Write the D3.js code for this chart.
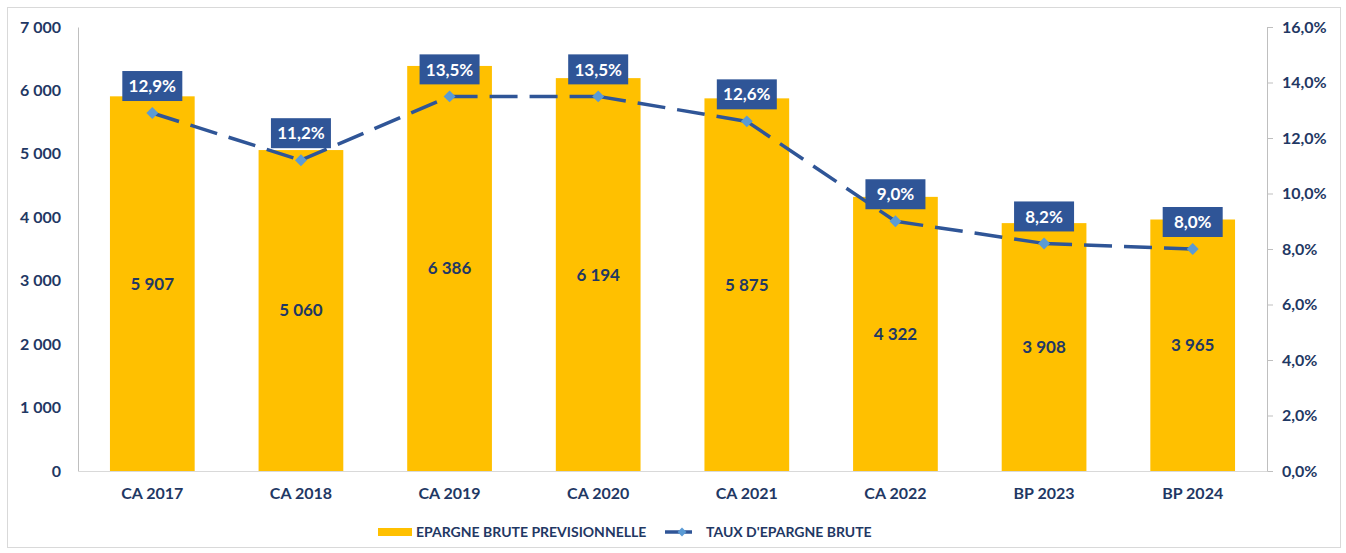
<!DOCTYPE html>
<meta charset="utf-8">
<style>
body { margin: 0; background: #fff; }
svg text { font-family: Lato, "Open Sans", sans-serif; }
.lbl { font-weight: bold; fill: #1f3864; }
</style>
<body>
<svg id="chart" width="1346" height="553"></svg>
<script src="https://cdn.jsdelivr.net/npm/d3@7"></script>
<script>

var categories = ["CA 2017", "CA 2018", "CA 2019", "CA 2020", "CA 2021", "CA 2022", "BP 2023", "BP 2024"];
var epargne = [5907, 5060, 6386, 6194, 5875, 4322, 3908, 3965];
var taux = [12.9, 11.2, 13.5, 13.5, 12.6, 9.0, 8.2, 8.0];
var leftTicks = [0, 1000, 2000, 3000, 4000, 5000, 6000, 7000];
var rightTicks = [0, 2, 4, 6, 8, 10, 12, 14, 16];

var navy = "#1f3864",
  barColor = "#ffc000",
  lineColor = "#2f5597",
  markerColor = "#5b9bd5";

var svg = d3.select("#chart");

// outer frame
svg.append("rect")
  .attr("x", 7.5).attr("y", 7.5)
  .attr("width", 1333).attr("height", 540)
  .attr("fill", "none").attr("stroke", "#d9d9d9");

var plotL = 78, plotR = 1267, plotT = 27, plotB = 471;

var x = d3.scaleBand()
  .domain(categories)
  .range([plotL, plotR])
  .paddingInner(0.43)
  .paddingOuter(0.215);

var y = d3.scaleLinear().domain([0, 7000]).range([plotB, plotT]);
var y2 = d3.scaleLinear().domain([0, 16]).range([plotB, plotT]);

var fmtThousands = function(v) { return d3.format(",")(v).replace(/,/g, " "); };
var fmtPct = function(v) { return v.toFixed(1).replace(".", ",") + "%"; };

// bars
svg.selectAll(".bar")
  .data(epargne)
  .enter().append("rect")
  .attr("class", "bar")
  .attr("x", function(d, i) { return x(categories[i]); })
  .attr("y", function(d) { return y(d); })
  .attr("width", x.bandwidth())
  .attr("height", function(d) { return plotB - y(d); })
  .attr("fill", barColor);

// bar values
svg.selectAll(".barval")
  .data(epargne)
  .enter().append("text")
  .attr("class", "lbl")
  .attr("x", function(d, i) { return x(categories[i]) + x.bandwidth() / 2; })
  .attr("y", function(d) { return (y(d) + plotB) / 2; })
  .attr("dy", "0.35em")
  .attr("text-anchor", "middle")
  .style("font-size", "17px")
  .text(fmtThousands);

// left axis
var ax = svg.append("g")
  .attr("transform", "translate(" + plotL + ",0)")
  .call(d3.axisLeft(y).tickValues(leftTicks).tickSize(0).tickPadding(17).tickFormat(fmtThousands))
  .attr("font-family", null);
ax.select(".domain").attr("stroke", "#bfbfbf");
ax.selectAll("text").attr("class", "lbl").style("font-size", "16px").attr("fill", navy);

// right axis
var ax2 = svg.append("g")
  .attr("transform", "translate(" + plotR + ",0)")
  .call(d3.axisRight(y2).tickValues(rightTicks).tickSizeInner(6).tickSizeOuter(6).tickPadding(9).tickFormat(fmtPct))
  .attr("font-family", null);
ax2.selectAll(".domain, line").attr("stroke", "#bfbfbf");
ax2.selectAll("text").attr("class", "lbl").style("font-size", "16px").attr("fill", navy);

// bottom axis
var bx = svg.append("g")
  .attr("transform", "translate(0," + plotB + ")")
  .call(d3.axisBottom(x).tickSize(0).tickPadding(17))
  .attr("font-family", null);
bx.select(".domain").attr("stroke", "#d9d9d9");
bx.selectAll("text").attr("class", "lbl").style("font-size", "16px").attr("fill", navy);

// rate line: one path per segment so the dashes restart at each point
var cx = function(i) { return x(categories[i]) + x.bandwidth() / 2; };
var line = d3.line()
  .x(function(d) { return cx(d.i); })
  .y(function(d) { return y2(d.v); });

var segs = d3.pairs(taux.map(function(v, i) { return {v: v, i: i}; }));
svg.selectAll(".seg")
  .data(segs)
  .enter().append("path")
  .attr("d", line)
  .attr("fill", "none")
  .attr("stroke", lineColor)
  .attr("stroke-width", 3.5)
  .attr("stroke-dasharray", "28,12");

svg.selectAll(".mk")
  .data(taux)
  .enter().append("path")
  .attr("d", d3.symbol().type(d3.symbolDiamond2).size(90))
  .attr("transform", function(d, i) { return "translate(" + cx(i) + "," + y2(d) + ")"; })
  .attr("fill", markerColor);

// rate labels
var lab = svg.selectAll(".rlab")
  .data(taux)
  .enter().append("g")
  .attr("transform", function(d, i) { return "translate(" + cx(i) + "," + (y2(d) - 27) + ")"; });
lab.append("rect")
  .attr("x", -30).attr("y", -15)
  .attr("width", 60).attr("height", 30)
  .attr("fill", lineColor);
lab.append("text")
  .attr("text-anchor", "middle")
  .attr("dy", "0.36em")
  .attr("fill", "#fff")
  .style("font-weight", "bold")
  .style("font-size", "17px")
  .text(fmtPct);

// legend
var lg = svg.append("g");
lg.append("rect").attr("x", 378).attr("y", 528).attr("width", 34).attr("height", 8).attr("fill", barColor);
lg.append("text").attr("class", "lbl").attr("x", 416).attr("y", 532).attr("dy", "0.35em")
  .style("font-size", "14px").text("EPARGNE BRUTE PREVISIONNELLE");
lg.append("line").attr("x1", 665).attr("x2", 692).attr("y1", 532).attr("y2", 532)
  .attr("stroke", lineColor).attr("stroke-width", 3.5);
lg.append("path").attr("d", d3.symbol().type(d3.symbolDiamond2).size(50))
  .attr("transform", "translate(682,532)").attr("fill", markerColor);
lg.append("text").attr("class", "lbl").attr("x", 706).attr("y", 532).attr("dy", "0.35em")
  .style("font-size", "14px").text("TAUX D'EPARGNE BRUTE");

</script>
</body>
